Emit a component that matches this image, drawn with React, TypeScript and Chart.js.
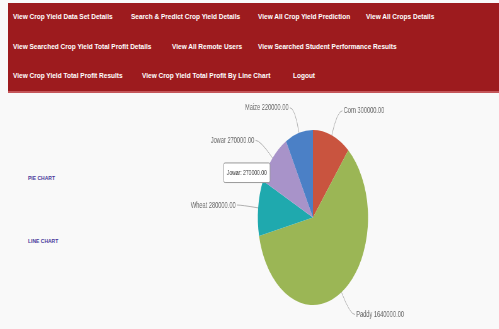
import React, { useEffect, useRef } from "react";
import { Chart, registerables, Tooltip } from "chart.js";

Chart.register(...registerables);

// ---- data ----
const cropLabels = ["Corn", "Paddy", "Wheat", "Jowar", "Maize"];
const cropProfits = [300000, 1640000, 280000, 270000, 220000];
const sliceColors = ["#C9543F", "#9BB655", "#1FA9AE", "#A893C9", "#4B80C6"];
const hoveredIndex = 3;

const navRow1 = ["View Crop Yield Data Set Details", "Search & Predict Crop Yield Details", "View All Crop Yield Prediction", "View All Crops Details"];
const navRow2 = ["View Searched Crop Yield Total Profit Details", "View All Remote Users", "View Searched Student Performance Results"];
const navRow3 = ["View Crop Yield Total Profit Results", "View Crop Yield Total Profit By Line Chart", "Logout"];
const navRow1X = [13, 131, 258, 366];
const navRow2X = [13, 172, 258];
const navRow3X = [13, 142, 293];
const sideLinks = ["PIE CHART", "LINE CHART"];

const SCALE_X = 0.63;
const CANVAS_W = 422;
const CANVAS_H = 230;

(Tooltip.positioners as any).leftOfSlice = function (items: any[]) {
  if (!items.length) return false;
  const p = items[0].element.tooltipPosition(true);
  return { x: p.x - 36, y: p.y - 15, xAlign: "right", yAlign: "center" };
};

const outLabels = {
  id: "outLabels",
  afterDatasetsDraw(chart: any) {
    const ctx = chart.ctx;
    const meta = chart.getDatasetMeta(0);
    const labels = chart.data.labels as string[];
    const values = chart.data.datasets[0].data as number[];
    meta.data.forEach((arc: any, i: number) => {
      const { x, y, startAngle, endAngle, outerRadius } = arc.getProps(
        ["x", "y", "startAngle", "endAngle", "outerRadius"],
        true
      );
      const mid = (startAngle + endAngle) / 2;
      const c = Math.cos(mid);
      const s = Math.sin(mid);
      const x0 = x + c * outerRadius;
      const y0 = y + s * outerRadius;
      const x1 = x + c * (outerRadius + 26);
      const y1 = y + s * (outerRadius + 26);
      const right = c >= 0;
      const x2 = x1 + (right ? 8 : -8);
      ctx.save();
      ctx.strokeStyle = "#b0b0b0";
      ctx.lineWidth = 1;
      ctx.beginPath();
      ctx.moveTo(x0, y0);
      ctx.quadraticCurveTo(x1, y1, x2, y1);
      ctx.stroke();
      ctx.fillStyle = "#6a6a6a";
      ctx.font = "9px 'Liberation Sans', Arial, sans-serif";
      ctx.textAlign = right ? "left" : "right";
      ctx.textBaseline = "middle";
      ctx.fillText(`${labels[i]} ${values[i].toFixed(2)}`, x2 + (right ? 2 : -2), y1);
      ctx.restore();
    });
  },
};

function PieChart() {
  const ref = useRef<HTMLCanvasElement | null>(null);
  useEffect(() => {
    if (!ref.current) return;
    const chart = new Chart(ref.current, {
      type: "pie",
      data: {
        labels: cropLabels,
        datasets: [
          {
            data: cropProfits,
            backgroundColor: sliceColors,
            hoverBackgroundColor: sliceColors,
            borderWidth: 0,
            hoverOffset: 0,
          },
        ],
      },
      options: {
        responsive: false,
        animation: false,
        events: [],
        layout: { padding: { top: 32, bottom: 23, left: 0, right: 0 } },
        plugins: {
          legend: { display: false },
          tooltip: {
            enabled: true,
            position: "leftOfSlice" as any,
            backgroundColor: "#ffffff",
            borderColor: "#9a9a9a",
            borderWidth: 1,
            bodyColor: "#333",
            bodyFont: { size: 8, family: "'Liberation Sans', Arial, sans-serif" },
            padding: { top: 5, bottom: 5, left: 5, right: 5 },
            cornerRadius: 2,
            caretSize: 0,
            caretPadding: 0,
            displayColors: false,
            callbacks: {
              title: () => "",
              label: (item: any) => `${item.label}: ${(item.raw as number).toFixed(2)}`,
            },
          },
        },
      },
      plugins: [outLabels],
    });
    chart.tooltip?.setActiveElements([{ datasetIndex: 0, index: hoveredIndex }], { x: 0, y: 0 });
    chart.update();
    return () => chart.destroy();
  }, []);
  return (
    <canvas
      ref={ref}
      width={CANVAS_W}
      height={CANVAS_H}
      style={{ width: CANVAS_W + "px", height: CANVAS_H + "px", display: "block" }}
    />
  );
}

const navText: React.CSSProperties = {
  position: "absolute",
  color: "#ffffff",
  fontFamily: "'Liberation Sans', Arial, sans-serif",
  fontWeight: "bold",
  fontSize: "6.5px",
  whiteSpace: "nowrap",
  lineHeight: "8px",
};

const sideText: React.CSSProperties = {
  position: "absolute",
  left: 28,
  color: "#4a3b9c",
  fontFamily: "'Liberation Sans', Arial, sans-serif",
  fontWeight: "bold",
  fontSize: "5px",
  lineHeight: "6px",
  whiteSpace: "nowrap",
};

export default function App() {
  const rows: [string[], number[], number][] = [
    [navRow1, navRow1X, 13],
    [navRow2, navRow2X, 43],
    [navRow3, navRow3X, 72],
  ];
  return (
    <div style={{ position: "fixed", left: 0, top: 0, width: 499, height: 329, background: "#f9f9f9", overflow: "hidden" }}>
      <div
        style={{
          position: "absolute",
          left: 8,
          top: 3,
          width: 491,
          height: 88,
          background: "#9d1b1e",
          borderBottom: "2px solid #c4565a",
        }}
      >
        {rows.map(([items, xs, top], r) =>
          items.map((t, i) => (
            <span key={r + "-" + i} style={{ ...navText, left: xs[i] - 8, top: top - 3 }}>
              {t}
            </span>
          ))
        )}
      </div>
      <span style={{ ...sideText, top: 175 }}>{sideLinks[0]}</span>
      <span style={{ ...sideText, top: 238 }}>{sideLinks[1]}</span>
      <div
        style={{
          position: "absolute",
          left: 180,
          top: 98,
          transform: `scaleX(${SCALE_X})`,
          transformOrigin: "0 0",
        }}
      >
        <PieChart />
      </div>
    </div>
  );
}
